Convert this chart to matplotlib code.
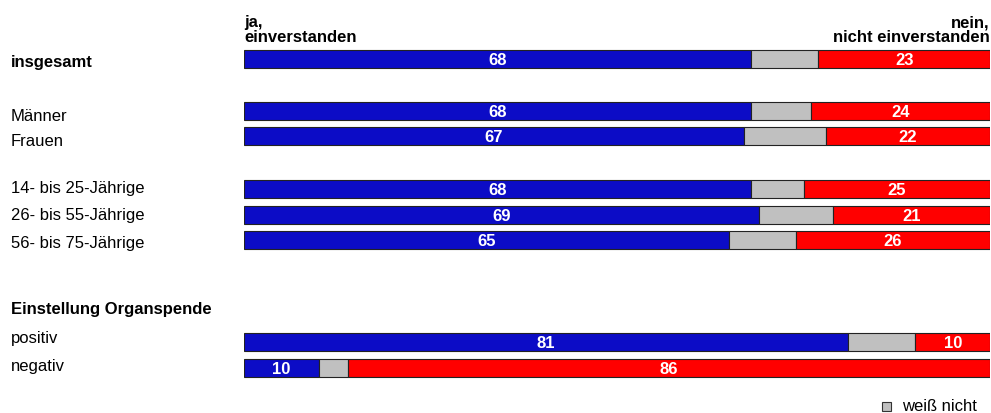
import matplotlib
matplotlib.use("Agg")
import matplotlib.pyplot as plt
import matplotlib.transforms as mtransforms
from matplotlib.patches import Rectangle

plt.rcParams['font.family'] = ['Liberation Sans', 'DejaVu Sans']

categories = ["insgesamt", "Männer", "Frauen", "14- bis 25-Jährige",
              "26- bis 55-Jährige", "56- bis 75-Jährige", "positiv", "negativ"]
ja = [68, 68, 67, 68, 69, 65, 81, 10]
weiss_nicht = [9, 8, 11, 7, 10, 9, 9, 4]
nein = [23, 24, 22, 25, 21, 26, 10, 86]
bold_cats = ["insgesamt"]
section_title = "Einstellung Organspende"
header_left = "ja,\neinverstanden"
header_right = "nein,\nnicht einverstanden"
legend_label = "weiß nicht"

# layout (pixel rows)
W, H = 991, 414
bar_y = [60, 112, 137, 190, 216, 241, 343, 369]
label_y = [62, 117, 142, 189, 216, 244, 339, 367]
bar_h = 18
x0, x1 = 244, 990

c_blue = "#0c0cc6"
c_gray = "#c0c0c0"
c_red = "#ff0000"

fs = 12

fig = plt.figure(figsize=(W / 100, H / 100), dpi=100)
ax = fig.add_axes([x0 / W, 0, (x1 - x0) / W, 1])
ax.set_xlim(0, 100)
ax.set_ylim(H, 0)
ax.axis("off")

kw = dict(height=bar_h, edgecolor="#222222", linewidth=0.8)
ax.barh(bar_y, ja, color=c_blue, **kw)
ax.barh(bar_y, weiss_nicht, left=ja, color=c_gray, **kw)
left_red = [a + b for a, b in zip(ja, weiss_nicht)]
ax.barh(bar_y, nein, left=left_red, color=c_red, **kw)

for y, a, lr, n in zip(bar_y, ja, left_red, nein):
    ax.text(a / 2, y + 0.5, str(a), ha="center", va="center", color="white",
            fontsize=fs, fontweight="bold")
    ax.text(lr + n / 2, y + 0.5, str(n), ha="center", va="center", color="white",
            fontsize=fs, fontweight="bold")

trans = mtransforms.blended_transform_factory(fig.transFigure, ax.transData)
for cat, y in zip(categories, label_y):
    ax.text(11 / W, y, cat, transform=trans, ha="left", va="center",
            fontsize=fs, fontweight="bold" if cat in bold_cats else "normal")
ax.text(11 / W, 310, section_title, transform=trans, ha="left", va="center",
        fontsize=fs, fontweight="bold")

ax.text(0, 42, header_left, ha="left", va="baseline", fontsize=fs,
        fontweight="bold", linespacing=1.0)
ax.text(100, 42, header_right, ha="right", va="baseline", fontsize=fs,
        fontweight="bold", linespacing=1.0)

# legend
fig.patches.append(Rectangle((882 / W, 1 - 412 / H), 9 / W, 9 / H,
                             transform=fig.transFigure, facecolor=c_gray,
                             edgecolor="#333333", linewidth=0.8))
fig.text(902 / W, 1 - 407 / H, legend_label, ha="left", va="center", fontsize=fs)

fig.savefig("out.png", dpi=100)
